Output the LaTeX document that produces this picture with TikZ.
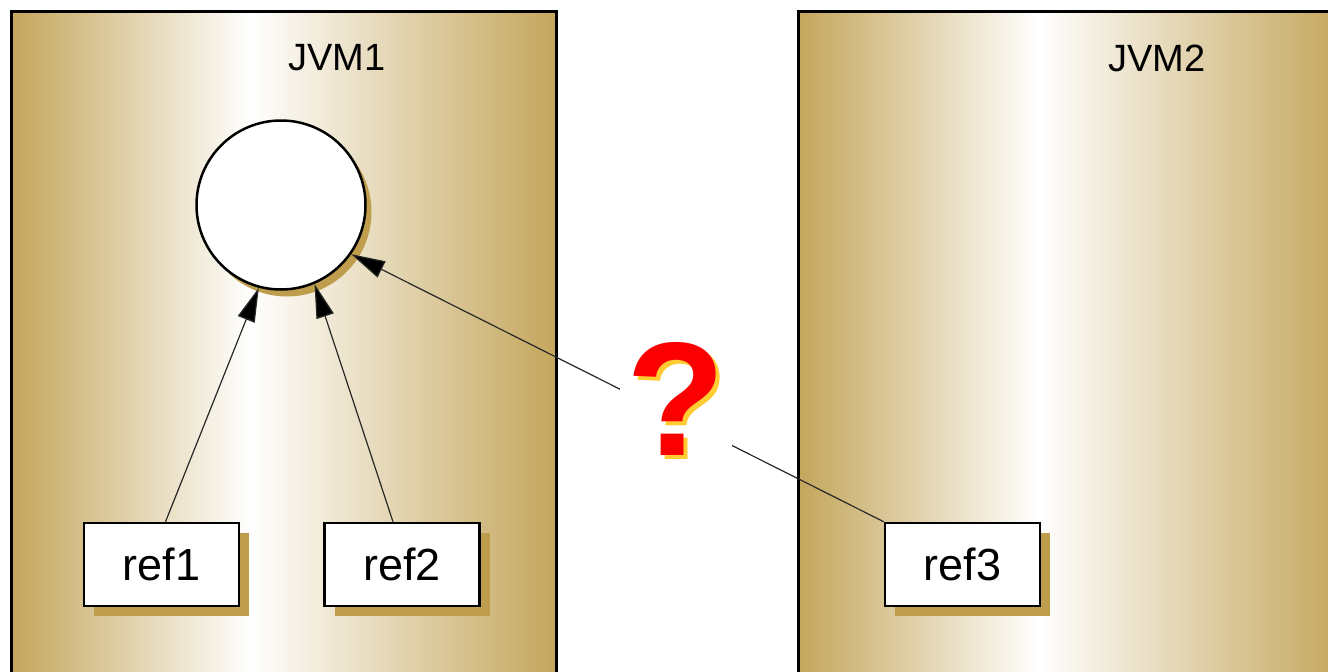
\documentclass[tikz,border=0pt]{standalone}
\usepackage{fontspec}
\setmainfont{Liberation Sans}
\usetikzlibrary{arrows.meta,shadows}
\definecolor{gold}{RGB}{196,166,92}
\definecolor{goldshadow}{RGB}{190,158,76}
\definecolor{qred}{RGB}{250,0,0}
\definecolor{qyellow}{RGB}{255,205,50}
\definecolor{conncol}{RGB}{40,40,40}
\pgfdeclarehorizontalshading{jvmshade}{100bp}{color(0bp)=(gold); color(25bp)=(gold); color(47bp)=(white); color(75bp)=(gold); color(100bp)=(gold)}
\tikzset{
  jvmbox/.style={rectangle, draw=black, line width=3pt, shading=jvmshade, anchor=north west, minimum width=545pt, minimum height=720pt, inner sep=0pt},
  jvmlabel/.style={font=\fontsize{38}{46}\selectfont, text=black, inner sep=0pt},
  objcirc/.style={circle, draw=black, line width=2.5pt, fill=white, minimum size=169pt, inner sep=0pt,
    drop shadow={shadow xshift=6pt, shadow yshift=-7pt, fill=goldshadow, opacity=1}},
  refbox/.style={rectangle, draw=black, line width=2.5pt, fill=white, minimum width=155pt, minimum height=83pt, inner sep=0pt,
    font=\fontsize{45}{54}\selectfont,
    drop shadow={shadow xshift=10pt, shadow yshift=-10pt, fill=goldshadow, opacity=1}},
  conn/.style={draw=conncol, line width=1.2pt, -{Triangle[length=34pt,width=18pt,fill=black]}},
  qmark/.style={font=\fontsize{162}{170}\selectfont\bfseries, fill=white, inner xsep=7pt, inner ysep=4pt, anchor=base}
}
\begin{document}
\begin{tikzpicture}[x=1pt,y=-1pt]
\useasboundingbox (0,0) rectangle (1328,672);
\begin{scope}
\clip (0,0) rectangle (1328,672);
\node[jvmbox] (jvm1) at (10,10) {};
\node[jvmbox] (jvm2) at (797,10) {};
\end{scope}
\node[jvmlabel] (l1) at (337,58) {JVM1};
\node[jvmlabel] (l2) at (1157,58) {JVM2};
\node[objcirc] (obj) at (281,205) {};
\node[refbox] (ref1) at (161.5,564.5) {ref1};
\node[refbox] (ref2) at (402,564.5) {ref2};
\node[refbox] (ref3) at (962.5,564.5) {ref3};
\draw[conn] ([xshift=4pt]ref1.north) -- (obj.-105);
\draw[conn] ([xshift=-9pt]ref2.north) -- (obj.-67);
\draw[conn] (ref3.north west) -- (obj.-35);
\node[qmark] (q) at (676,455) {\makebox[0pt][l]{\hspace{4pt}\raisebox{-4pt}{\color{qyellow}?}}{\color{qred}?}};
\end{tikzpicture}
\end{document}
